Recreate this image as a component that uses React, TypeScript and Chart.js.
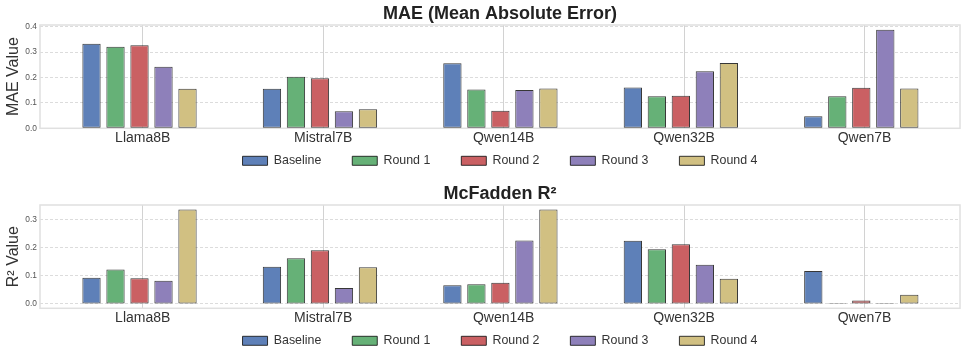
import React, { useEffect, useRef } from 'react';
import { Chart, registerables } from 'chart.js';

Chart.register(...registerables);
Chart.defaults.font.family = '"Liberation Sans", Arial, sans-serif';

const categories = ['Llama8B', 'Mistral7B', 'Qwen14B', 'Qwen32B', 'Qwen7B'];
const seriesNames = ['Baseline', 'Round 1', 'Round 2', 'Round 3', 'Round 4'];

const maeBaseline = [0.333, 0.156, 0.256, 0.161, 0.047];
const maeRound1 = [0.321, 0.203, 0.153, 0.126, 0.126];
const maeRound2 = [0.327, 0.197, 0.069, 0.128, 0.160];
const maeRound3 = [0.242, 0.067, 0.151, 0.225, 0.388];
const maeRound4 = [0.156, 0.075, 0.157, 0.257, 0.157];

const r2Baseline = [0.094, 0.133, 0.067, 0.226, 0.118];
const r2Round1 = [0.123, 0.163, 0.070, 0.195, 0.003];
const r2Round2 = [0.092, 0.192, 0.076, 0.213, 0.012];
const r2Round3 = [0.083, 0.057, 0.227, 0.140, 0.003];
const r2Round4 = [0.337, 0.131, 0.337, 0.090, 0.033];

const maeTicks = [0, 0.1, 0.2, 0.3, 0.4];
const r2Ticks = [0, 0.1, 0.2, 0.3];
// category tick labels sit slightly right of each bar group's centre
const categoryTickShift = 0.018;

const fills = ['#5e80b8', '#66b177', '#ca6063', '#8e80ba', '#d1c082'];
const edge = 'rgba(20,20,20,0.85)';

const framePlugin = {
  id: 'frame',
  beforeDatasetsDraw(chart: any) {
    const { ctx, chartArea } = chart;
    const { left, top, right, bottom } = chartArea;
    ctx.save();
    ctx.strokeStyle = '#e0e0e0';
    ctx.lineWidth = 1.5;
    ctx.strokeRect(left, top, right - left, bottom - top);
    ctx.restore();
  },
};

const legendPosPlugin = {
  id: 'legendPos',
  afterLayout(chart: any) {
    const lg = chart.legend;
    if (lg) {
      lg.top = 123.6;
      lg.bottom = chart.height;
      lg.height = lg.bottom - lg.top;
    }
  },
};

function BarPanel(props: {
  title: string;
  yTitle: string;
  series: number[][];
  yMin: number;
  yMax: number;
  ticks: number[];
  height: number;
}) {
  const ref = useRef<HTMLCanvasElement>(null);
  const { title, yTitle, series, yMin, yMax, ticks, height } = props;

  useEffect(() => {
    if (!ref.current) return;
    const chart = new Chart(ref.current, {
      type: 'bar',
      data: {
        datasets: series.map((vals, k) => ({
          label: seriesNames[k],
          data: vals.map((v, i) => ({ x: i, y: v })),
          backgroundColor: fills[k],
          borderColor: edge,
          borderWidth: 1,
          borderSkipped: false,
          categoryPercentage: 0.665,
          barPercentage: 0.762,
        })),
      },
      options: {
        animation: false,
        responsive: false,
        devicePixelRatio: 1,
        layout: { padding: { left: 0, right: 6, top: 0, bottom: 0 } },
        scales: {
          x: {
            type: 'linear',
            offset: false,
            min: -0.5514,
            max: 4.547,
            afterBuildTicks: (s: any) => {
              s.ticks = categories.map((_, i) => ({ value: i + categoryTickShift }));
            },
            afterFit: (s: any) => {
              s.height = s.chart.height - 20 - 128.3;
            },
            ticks: {
              callback: (v: any) => categories[Math.round(Number(v))],
              font: { size: 14 },
              color: '#333',
              padding: 1.2,
              autoSkip: false,
              maxRotation: 0,
            },
            grid: { color: '#d2d2d2', lineWidth: 1, drawTicks: false, offset: false },
            border: { display: false },
          },
          y: {
            min: yMin,
            max: yMax,
            afterBuildTicks: (s: any) => {
              s.ticks = ticks.map((v) => ({ value: v }));
            },
            afterFit: (s: any) => {
              s.width = 40;
            },
            ticks: {
              callback: (v: any) => Number(v).toFixed(1),
              font: { size: 8.4 },
              color: '#555',
              padding: 3,
            },
            grid: { color: '#dcdcdc', lineWidth: 1, drawTicks: false },
            border: { display: false, dash: [3, 2] },
            title: {
              display: true,
              text: yTitle,
              font: { size: 16 },
              color: '#333',
              padding: { top: 4, bottom: 0 },
            },
          },
        },
        plugins: {
          title: {
            display: true,
            text: title,
            fullSize: false,
            font: { size: 18, weight: 'bold' },
            color: '#222',
            padding: { top: 2.96, bottom: 0.44 },
          },
          legend: {
            position: 'bottom',
            fullSize: false,
            maxHeight: 20,
            labels: {
              boxWidth: 25,
              boxHeight: 9,
              padding: 31,
              font: { size: 12.4 },
              color: '#333',
            },
          },
          tooltip: { enabled: false },
        },
      } as any,
      plugins: [framePlugin, legendPosPlugin],
    });
    return () => chart.destroy();
  }, []);

  return (
    <canvas
      ref={ref}
      width={966}
      height={height}
      style={{ display: 'block', width: 966, height }}
    />
  );
}

export default function App() {
  return (
    <div
      style={{
        position: 'absolute',
        left: 0,
        top: 0,
        width: 966,
        height: 359,
        background: '#ffffff',
        overflow: 'hidden',
      }}
    >
      <BarPanel
        title="MAE (Mean Absolute Error)"
        yTitle="MAE Value"
        series={[maeBaseline, maeRound1, maeRound2, maeRound3, maeRound4]}
        yMin={0}
        yMax={0.4067}
        ticks={maeTicks}
        height={180}
      />
      <BarPanel
        title="McFadden R²"
        yTitle="R² Value"
        series={[r2Baseline, r2Round1, r2Round2, r2Round3, r2Round4]}
        yMin={-0.0155}
        yMax={0.3535}
        ticks={r2Ticks}
        height={179}
      />
    </div>
  );
}
